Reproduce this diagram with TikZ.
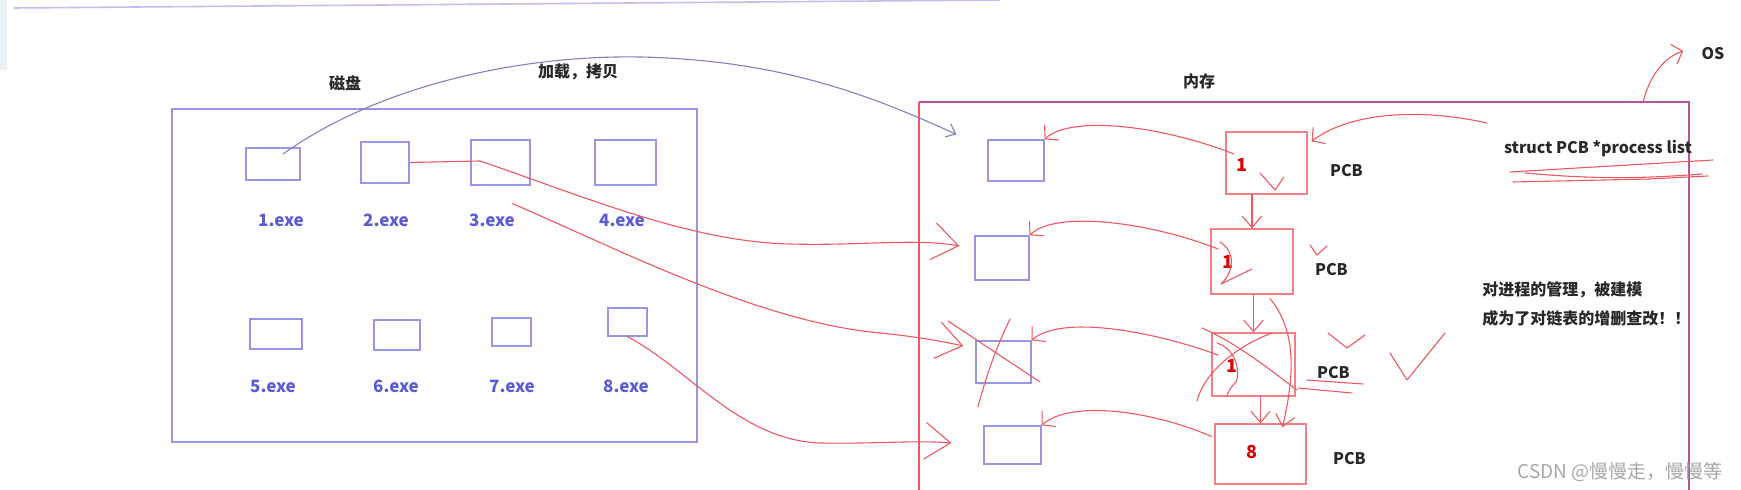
\documentclass[tikz,border=0pt]{standalone}
\usepackage{fontspec}
\setmainfont{Noto Sans CJK SC}
\usetikzlibrary{positioning,arrows.meta,calc}
\definecolor{fileblue}{RGB}{150,150,228}
\definecolor{exeblue}{RGB}{92,92,210}
\definecolor{inkred}{RGB}{236,88,96}
\definecolor{pcbred}{RGB}{242,128,134}
\definecolor{memmag}{RGB}{186,80,160}
\definecolor{txtdark}{RGB}{40,40,40}
\definecolor{sidebar}{RGB}{236,241,246}
\tikzset{
  >={Straight Barb[length=2mm,width=3.4mm]},
  sz/.style 2 args={minimum width=#1pt,minimum height=#2pt},
  diskframe/.style={draw=fileblue,line width=0.6pt},
  memframe/.style={draw=memmag,line width=0.6pt},
  exebox/.style={draw=fileblue,line width=0.6pt,inner sep=0pt},
  exelbl/.style={text=exeblue,font=\bfseries\fontsize{8.5}{10}\selectfont},
  pcbbox/.style={draw=pcbred,line width=0.6pt,inner sep=0pt},
  pcbnum/.style={text=red!85!black,font=\bfseries\fontsize{9}{10}\selectfont,inner sep=0pt},
  pcblbl/.style={text=txtdark,font=\bfseries\fontsize{8}{10}\selectfont,inner sep=0pt},
  capt/.style={text=txtdark,font=\bfseries\fontsize{8}{10}\selectfont},
  notelbl/.style={text=txtdark,font=\bfseries\fontsize{8}{10}\selectfont,anchor=west,inner sep=0pt},
  wmark/.style={text=black!35,font=\fontsize{9.5}{11}\selectfont},
  ink/.style={draw=inkred,line width=0.55pt,line cap=round,line join=round},
  blueink/.style={draw=fileblue!85!black,line width=0.55pt,line cap=round},
  load/.style={ink,-{Straight Barb[length=4.5mm,width=6.5mm]}},
  ptr/.style={ink,-{Straight Barb[length=1.6mm,width=3.6mm]}},
  nxt/.style={ink,->},
}
\begin{document}
\begin{tikzpicture}[x=0.5pt,y=-0.5pt]
  \useasboundingbox (0,0) rectangle (1741,490);
  \fill[sidebar] (0,0) rectangle (7,70);
  \draw[fileblue!60,line width=0.8pt] (14,8) -- (1000,0);

  \draw[diskframe] (172,109) rectangle (697,442);
  \node[capt] (disk) at (345,83) {磁盘};
  \foreach \n/\x/\y/\w/\h in {1/273/164/27/16, 2/385/162.5/24/20.5,
      3/500.5/162.5/29.5/22.5, 4/625.5/162.5/30.5/22.5, 5/276/334/26/15,
      6/397/335/23/15, 7/511.5/332/19.5/14, 8/627.5/322/19.5/14}
    \node[exebox,sz={\w}{\h}] (e\n) at (\x,\y) {};
  \foreach \n/\x/\y in {1/281/220, 2/386/220, 3/492/220, 4/622/220,
      5/273/386, 6/396/386, 7/512/386, 8/626/386}
    \node[exelbl] (l\n) at (\x,\y) {\n.exe};

  \draw[memframe] (919,102) -- (1689,102) -- (1689,490);
  \draw[ink] (919,102) -- (919,490);
  \node[capt] (mem) at (1199,81) {内存};
  \node[capt] (cp) at (578,72) {加载，拷贝};
  \foreach \n/\x/\y/\w/\h in {1/1016/160.5/28/20.5, 2/1002/258/27/22,
      3/1003.5/362/27.5/21, 4/1012.5/445/28.5/19}
    \node[exebox,sz={\w}{\h}] (m\n) at (\x,\y) {};
  \foreach \n/\x/\y/\w/\h in {1/1266.5/163/40.5/31, 2/1252/261.5/41/32.5,
      3/1253.5/364.5/41.5/31.5, 4/1260.5/454/45.5/30}
    \node[pcbbox,sz={\w}{\h}] (p\n) at (\x,\y) {};
  \node[pcbnum] (n1) at (1242,165) {1};
  \node[pcbnum] (n2) at (1228,262) {1};
  \node[pcbnum] (n3) at (1232,366) {1};
  \node[pcbnum] (n4) at (1252,452) {8};
  \node[pcblbl,right=11pt of p1,yshift=-4pt] (b1) {PCB};
  \node[pcblbl,right=10.5pt of p2,yshift=-4pt] (b2) {PCB};
  \node[pcblbl,right=10.5pt of p3,yshift=-4pt] (b3) {PCB};
  \node[pcblbl,right=13pt of p4,yshift=-2.5pt] (b4) {PCB};

  \node[capt,inner sep=0pt] (hdr) at (1598,149) {struct PCB *process list};
  \node[capt,inner sep=0pt] (os) at (1713,54) {OS};
  \node[notelbl] (note1) at (1482,290) {对进程的管理，被建模};
  \node[notelbl] (note2) at (1482,318) {成为了对链表的增删查改！！};
  \node[wmark] (wm) at (1620,472) {CSDN @慢慢走，慢慢等};

  \draw[blueink,-{Straight Barb[length=1.5mm,width=2.5mm]}] ($(e1.center)+(10,-10)$)
    .. controls (380,85) and (520,55) .. (640,57)
    .. controls (780,60) and (870,95) .. ($(m1.north west)+(-31,-5)$);
  \draw[load] (e2.east) -- (480,161) .. controls (580,195) and (690,242) .. (790,244)
    .. controls (860,246) and (915,238) .. ($(m2.west)+(-15,-12)$);
  \draw[load] ($(e3.south)+(12,18)$) .. controls (620,250) and (760,322) .. (880,333)
    .. controls (920,337) and (945,342) .. ($(m3.west)+(-12,-16)$);
  \draw[load] (e8.south) .. controls (690,370) and (740,440) .. (820,443)
    .. controls (880,444) and (915,440) .. ($(m4.west)+(-32,-2)$);

  \draw[ptr] ($(n1.north west)+(-2,-4)$) .. controls (1160,125) and (1070,115) .. (m1.north east);
  \draw[ptr] ($(n2.north west)+(-4,-6)$) .. controls (1150,222) and (1055,210) .. (m2.north east);
  \draw[ptr] ($(n3.north west)+(-8,-4)$) .. controls (1150,330) and (1060,315) .. (m3.north east);
  \draw[ptr] ($(p4.north west)+(-3,13)$) .. controls (1150,410) and (1070,400) .. (m4.north east);

  \draw[nxt] (p1.south -| p2.north) -- (p2.north);
  \draw[nxt] (p2.south -| p3.north) -- (p3.north);
  \draw[nxt] (p3.south -| p4.north) -- (p4.north);
  \draw[nxt] ($(p2.south)+(18,4)$) .. controls (1300,335) and (1292,385) .. ($(p4.north)+(22,4)$);

  \coordinate (hd) at (1487,123);
  \draw[ptr] (hd) .. controls (1420,108) and (1350,112) .. ($(p1.north east)+(4,10)$);
  \coordinate (ostail) at (1643,103);
  \draw[ptr] (ostail) .. controls (1648,80) and (1662,58) .. ($(os.west)+(-18,-3)$);

  \draw[ink] (1510,172) -- (1713,160);
  \draw[ink] (1525,173) .. controls (1600,180) and (1650,178) .. (1702,174);
  \draw[ink] (1513,182) -- (1650,179) -- (1708,176);

  \draw[ink] (1260,173) -- (1275,190) -- (1284,177);
  \draw[ink] (1310,245) -- (1317,255) -- (1327,246);
  \draw[ink] (1328,333) -- (1347,348) -- (1365,335);
  \draw[ink] (1390,353) -- (1407,380) -- (1445,333);

  \draw[ink] (1220,242) .. controls (1236,252) and (1234,272) .. (1221,284) -- (1252,269);
  \draw[ink] (1202,328) .. controls (1240,345) and (1270,370) .. (1297,390);
  \draw[ink] (1197,401) .. controls (1205,370) and (1240,345) .. (1272,333);
  \draw[ink] (1217,343) .. controls (1238,350) and (1240,375) .. (1236,382)
    .. controls (1230,388) and (1228,392) .. (1227,396);
  \draw[ink] (948,321) -- (1040,382);
  \draw[ink] (1010,319) .. controls (995,350) and (985,380) .. (978,407);
  \draw[ink] (1307,380) -- (1363,384);
  \draw[ink] (1298,388) -- (1352,393);
\end{tikzpicture}
\end{document}
